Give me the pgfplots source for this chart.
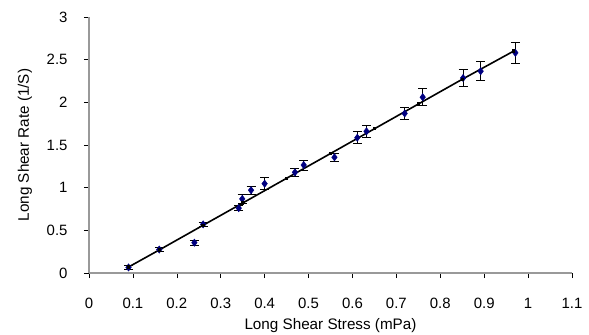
\documentclass[border=0pt]{standalone}
\usepackage{pgfplots}
\pgfplotsset{compat=1.18}
\usepackage{fontspec}
\setmainfont{Liberation Sans}
\definecolor{ptblue}{RGB}{0,0,128}
\begin{document}
\begin{tikzpicture}
\useasboundingbox (-89bp,-62bp) rectangle (500bp,273bp);
\begin{axis}[
  at={(0,0)}, anchor=south west,
  scale only axis, width=483bp, height=256bp,
  xmin=0, xmax=1.1, ymin=0, ymax=3,
  axis x line=bottom, axis y line=left,
  axis line style={-, draw=gray!80, line width=1.2bp},
  xtick={0,0.1,...,1.1}, ytick={0,0.5,...,3},
  xticklabels={0,0.1,0.2,0.3,0.4,0.5,0.6,0.7,0.8,0.9,1,1.1},
  yticklabels={0,0.5,1,1.5,2,2.5,3},
  tick align=outside, major tick length=5bp,
  tick style={black, line width=0.6bp},
  every tick label/.style={font=\fontsize{15}{17}\selectfont, text=black},
  xticklabel style={anchor=center, yshift=-25bp},
  yticklabel style={anchor=east, xshift=-13bp},
  xlabel={Long Shear Stress (mPa)}, ylabel={Long Shear Rate (1/S)},
  label style={font=\fontsize{15.3}{17}\selectfont},
  xlabel style={at={(axis description cs:0.5,-0.207)}, anchor=center},
  ylabel style={at={(axis description cs:-0.1325,0.5)}, anchor=center},
  clip=false,
]
\addplot[only marks, mark=diamond*, mark size=3.7bp, color=ptblue,
  error bars/.cd, y dir=both, y explicit,
  error bar style={black, line width=0.8bp},
  error mark options={black, rotate=90, mark size=4.5bp, line width=0.8bp}]
  table[x=x, y=y, y error=e] {
  x     y     e
  0.090 0.065 0.02
  0.160 0.275 0.02
  0.240 0.355 0.03
  0.260 0.570 0.02
  0.341 0.760 0.03
  0.349 0.868 0.05
  0.369 0.970 0.05
  0.400 1.047 0.07
  0.469 1.180 0.05
  0.489 1.265 0.06
  0.559 1.356 0.05
  0.611 1.585 0.07
  0.632 1.660 0.07
  0.719 1.870 0.07
  0.760 2.060 0.10
  0.852 2.285 0.10
  0.892 2.365 0.11
  0.971 2.580 0.12
  };
\addplot[black, line width=1.6bp, mark=square*, mark size=0.9bp, mark options={black}]
  coordinates {(0.09,0.07) (0.16,0.27) (0.26,0.56) (0.35,0.82) (0.45,1.11) (0.55,1.40) (0.65,1.69) (0.75,1.98) (0.85,2.27) (0.967,2.60)};
\end{axis}
\end{tikzpicture}
\end{document}
